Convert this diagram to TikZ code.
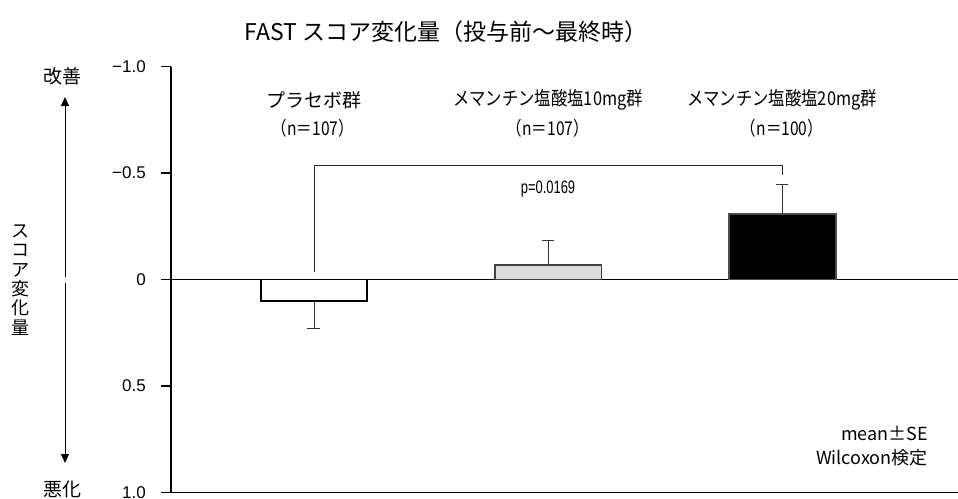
\documentclass[tikz,border=0pt]{standalone}
\usepackage{fontspec}
\setmainfont{Noto Sans CJK JP}
\newfontfamily\lat{Liberation Sans}
\usetikzlibrary{arrows.meta}
\begin{document}
\begin{tikzpicture}[x=1pt,y=-1pt,
  axis/.style={line width=1.2pt,black},
  bar/.style={line width=1.4pt},
  err/.style={line width=1pt,black!80},
  lbl/.style={inner sep=0pt,font=\fontsize{16}{18}\selectfont},
  grp/.style={inner sep=0pt,font=\fontsize{19}{22}\selectfont},
  tick/.style={inner sep=0pt,anchor=east,font=\lat\fontsize{17}{18}\selectfont}]
\useasboundingbox[fill=white] (0,0) rectangle (958,498);
% title
\node[inner sep=0pt,font=\fontsize{23}{26}\selectfont] (title) at (446,32) {FAST スコア変化量（投与前〜最終時）};
% axis
\coordinate (atop) at (171,66.5);
\coordinate (abot) at (171,492.5);
\draw[axis] (atop) -- (abot);
\draw[axis] (171,279.5) -- (958,279.5);
\draw[axis] (171,492.5) -- (958,492.5);
\foreach \v/\t [count=\i] in {-1.0/−1.0,-0.5/−0.5,0/0,0.5/0.5,1.0/1.0}{
  \draw[axis] (161,{279.5+213*\v}) -- (171,{279.5+213*\v});
  \node[tick] (t\i) at (146,{279.5+213*\v}) {\t};
}
% left annotation
\node[lbl,font=\fontsize{19}{20}\selectfont] (kaizen) at (62,76) {改善};
\node[lbl,font=\fontsize{19}{20}\selectfont] (akka) at (62,489) {悪化};
\coordinate (mid1) at (65,277);
\coordinate (mid2) at (65,283);
\draw[line width=1pt,-{Triangle[length=9pt,width=8pt]}] (mid1) -- (65,97);
\draw[line width=1pt,-{Triangle[length=9pt,width=8pt]}] (mid2) -- (65,463);
\node[lbl,align=center,font=\fontsize{18}{19.4}\selectfont] (ylab) at (20,280) {ス\\コ\\ア\\変\\化\\量};
% bars
\draw[bar,fill=white] (261,279.5) rectangle (367,300.8);
\draw[bar,draw=black!75,fill=black!14] (495,265) rectangle (601.5,279.5);
\draw[bar,draw=black!70,fill=black] (729,214) rectangle (836,279.5);
\draw[axis] (261,279.5) -- (367,279.5);
% error bars
\draw[err] (314,300.8) -- (314,328.3) (307,328.3) -- (320,328.3);
\draw[err] (548,265) -- (548,240) (542,240) -- (554,240);
\draw[err] (782,214) -- (782,184) (776,184) -- (788,184);
% bracket
\draw[line width=1pt,black!85] (314,272) -- (314,165) -- (782,165) -- (782,175);
\node[inner sep=0pt,xscale=0.72,font=\lat\fontsize{18}{18}\selectfont] (pval) at (548,189) {p=0.0169};
% group labels
\node[grp] (g1a) at (314,100) {プラセボ群};
\node[grp,xscale=0.82] (g1b) at (313,128) {（n＝107）};
\node[grp,xscale=0.86] (g2a) at (548,100) {メマンチン塩酸塩10mg群};
\node[grp,xscale=0.82] (g2b) at (548,128) {（n＝107）};
\node[grp,xscale=0.86] (g3a) at (782,100) {メマンチン塩酸塩20mg群};
\node[grp,xscale=0.82] (g3b) at (782,128) {（n＝100）};
% notes
\node[lbl,anchor=east,font=\fontsize{18}{20}\selectfont] (n1) at (928,433) {mean±SE};
\node[lbl,anchor=east,font=\fontsize{18}{20}\selectfont] (n2) at (928,458) {Wilcoxon検定};
\end{tikzpicture}
\end{document}
